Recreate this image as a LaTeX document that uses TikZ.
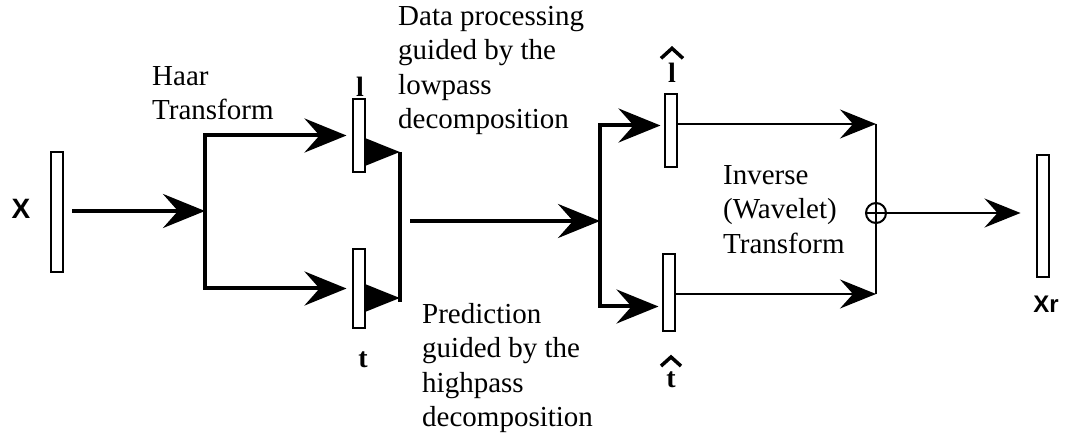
\documentclass[tikz,border=0pt]{standalone}
\usepackage{fontspec}
\setmainfont{Liberation Serif}
\newfontfamily\labelsans{Liberation Sans}
\usetikzlibrary{arrows.meta,calc,positioning}

\begin{document}
\begin{tikzpicture}[x=1pt,y=-1pt,
  vecbox/.style={draw,line width=2pt,inner sep=0pt,minimum width=12pt},
  thickarrow/.style={line width=4pt,-{Stealth[length=42pt,width=34pt,inset=15pt]}},
  thinarrow/.style={line width=2pt,-{Stealth[length=36pt,width=29pt,inset=13pt]}},
  triarrow/.style={line width=4pt,-{Triangle[length=34pt,width=26pt]}},
  hatmark/.style={line width=3.5pt,line join=miter},
  note/.style={anchor=north west,align=left,inner sep=0pt,font=\fontsize{29}{34.5}\selectfont},
  vlabel/.style={anchor=base,inner sep=0pt,font=\fontsize{28}{30}\selectfont\bfseries},
  slabel/.style={anchor=base,inner sep=0pt,font=\fontsize{28}{30}\selectfont\labelsans\bfseries}]
  \useasboundingbox (0,0) rectangle (1065,435);
  \node[vecbox,minimum height=120pt] (xin) at (57,212) {};
  \node[vecbox,minimum height=73pt] (lbox) at (358.5,135.5) {};
  \node[vecbox,minimum height=79pt] (tbox) at (358.5,288.5) {};
  \node[vecbox,minimum height=73pt] (lhat) at (670.5,130.5) {};
  \node[vecbox,minimum height=77pt] (that) at (668.5,292.5) {};
  \node[vecbox,minimum height=122pt] (xr) at (1042.5,216) {};
  \node[draw,circle,line width=2pt,minimum size=20pt,inner sep=0pt] (sum) at (876,213) {};
  \coordinate (split1) at (205,211);
  \coordinate (join1t) at (400,152);
  \coordinate (join1b) at (400,302);
  \coordinate (split2) at (600,221);
  \coordinate (sumt) at (876,124);
  \coordinate (sumb) at (876,294);
  \draw[thickarrow] ($(xin.east)+(8,-1)$) -- (split1);
  \draw[thickarrow,shorten >=5pt] (split1) |- (lbox.west);
  \draw[thickarrow,shorten >=5pt] (split1) |- (tbox.west);
  \draw[triarrow] (lbox.east |- join1t) -- (join1t);
  \draw[triarrow] (tbox.east |- join1b) ++(0,-4) -- ($(join1b)+(0,-4)$);
  \draw[line width=4pt] (join1t) -- (join1b);
  \draw[thickarrow] ($(join1t |- split2)+(10,0)$) -- (split2);
  \draw[thickarrow,shorten >=3pt] (split2) |- ($(lhat.west)+(0,-5)$);
  \draw[thickarrow,shorten >=3pt] (split2) |- ($(that.west)+(0,14)$);
  \draw[thinarrow] (lhat.east |- sumt) -- (sumt);
  \draw[thinarrow] (that.east |- sumb) -- (sumb);
  \draw[line width=2pt] (sumt) -- (sumb);
  \draw[thinarrow,shorten >=15pt] (sum.west) -- (sum -| xr.west);
  \node[note] (haar) at (152,66) {Haar\\Transform};
  \node[note] (lowtext) at (398,6) {Data processing\\guided by the\\lowpass\\decomposition};
  \node[note] (hightext) at (422,303) {Prediction\\guided by the\\highpass\\decomposition};
  \node[note] (invtext) at (723,165) {Inverse\\(Wavelet)\\Transform};
  \node[vlabel] (llab) at (360,97) {l};
  \node[vlabel] (tlab) at (363,367) {t};
  \node[vlabel] (lhatlab) at (672,83) {l};
  \node[vlabel] (thatlab) at (671,387) {t};
  \draw[hatmark] ($(lhatlab.north)+(-11,-5)$) -- ++(11,-10) -- ++(11,10);
  \draw[hatmark] ($(thatlab.north)+(-10,-5)$) -- ++(10,-9) -- ++(10,9);
  \node[slabel] (xlab) at (21,219) {X};
  \node[slabel,font=\fontsize{24}{26}\selectfont\labelsans\bfseries] (xrlab) at (1046,313) {Xr};
\end{tikzpicture}
\end{document}
